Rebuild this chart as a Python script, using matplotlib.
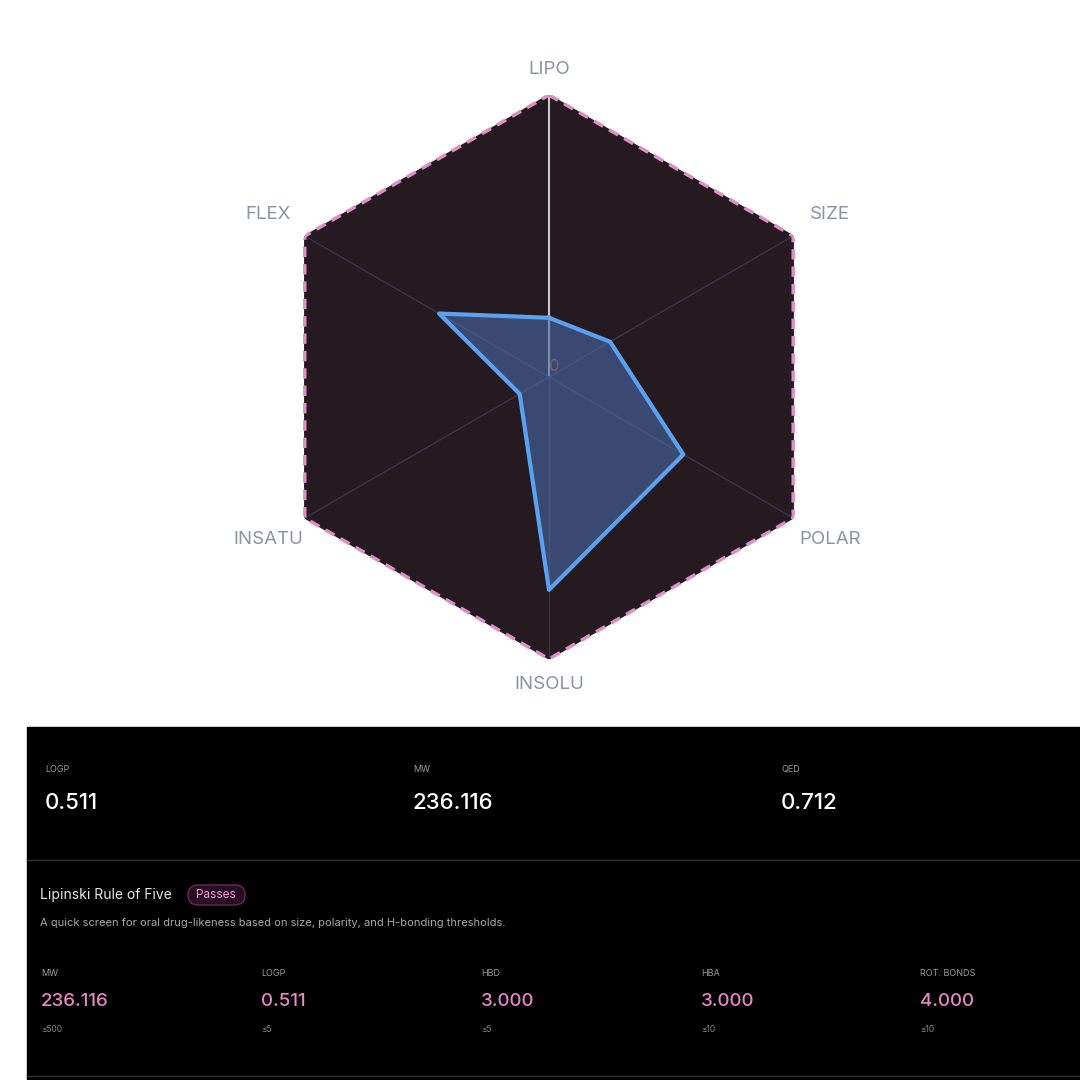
import numpy as np
import matplotlib
matplotlib.use("Agg")
import matplotlib.pyplot as plt
from matplotlib.patches import Rectangle, FancyBboxPatch

plt.rcParams['font.family'] = ['Inter', 'DejaVu Sans']

axes_labels = ["LIPO", "SIZE", "POLAR", "INSOLU", "INSATU", "FLEX"]
values = [0.21, 0.25, 0.55, 0.755, 0.12, 0.45]
top_metrics = ["LOGP", "MW", "QED"]
top_values = ["0.511", "236.116", "0.712"]
rule_names = ["MW", "LOGP", "HBD", "HBA", "ROT. BONDS"]
rule_values = ["236.116", "0.511", "3.000", "3.000", "4.000"]
rule_limits = ["≤500", "≤5", "≤5", "≤10", "≤10"]

W = 1080
fig = plt.figure(figsize=(10.8, 10.8), dpi=100)
fig.patch.set_facecolor("white")

cx, cy, R = 549 / W, 1 - 377 / W, 282 / W
ax = fig.add_axes([cx - R, cy - R, 2 * R, 2 * R], projection="polar")
ax.set_theta_zero_location("N")
ax.set_theta_direction(-1)
ax.set_ylim(0, 1)
ax.axis("off")

n = len(axes_labels)
theta = np.arange(n) * 2 * np.pi / n
tc = np.append(theta, theta[0])
ax.fill(tc, np.ones(n + 1), color="#241a20", zorder=1)
ax.plot(tc, np.ones(n + 1), color="#e08fc6", lw=2.5, ls=(0, (3, 2)), zorder=5)
for i, t in enumerate(theta):
    col = "#c8c8c8" if i == 0 else "#3a3444"
    lw = 1.5 if i == 0 else 1
    ax.plot([t, t], [0, 1], color=col, lw=lw, zorder=2)
vc = np.append(values, values[0])
ax.fill(tc, vc, color="#4a6aa8", alpha=0.6, zorder=3)
ax.plot(tc, vc, color="#5aa2f0", lw=3, zorder=4)
ax.text(0.06, 0.02, "0", color="#6a6470", fontsize=12, zorder=6)

for t, lab in zip(theta, axes_labels):
    r = 1.09 if lab in ("LIPO", "INSOLU") else 1.15
    ax.text(t, r, lab, color="#8a93a3", fontsize=13.5, ha="center", va="center",
            clip_on=False)

# bottom panel
pax = fig.add_axes([0, 0, 1, 1], facecolor="none")
pax.set_xlim(0, W); pax.set_ylim(W, 0); pax.axis("off")
pax.add_patch(Rectangle((27, 727), W - 27, W - 727, color="black"))
pax.plot([27, W], [860, 860], color="#333333", lw=1)
pax.plot([27, W], [1076, 1076], color="#333333", lw=1)

for x, m, v in zip([45, 413, 781], top_metrics, top_values):
    pax.text(x, 769, m, color="#9a9a9a", fontsize=6.5, va="center")
    pax.text(x, 803, v, color="white", fontsize=16, va="center", fontweight="medium")

pax.text(40, 895, "Lipinski Rule of Five", color="#e8e8e8", fontsize=10, va="center")
pax.add_patch(FancyBboxPatch((188, 885), 57, 20, boxstyle="round,pad=0,rounding_size=10",
                             fc="#2a0c22", ec="#6a2a55", lw=1))
pax.text(216, 895.5, "Passes", color="#e8a0d4", fontsize=8.5, ha="center", va="center")
pax.text(40, 923, "A quick screen for oral drug-likeness based on size, polarity, and H-bonding thresholds.",
         color="#a8a8a8", fontsize=8, va="center")

for x, nme, v, lim in zip([41, 261, 481, 701, 920], rule_names, rule_values, rule_limits):
    pax.text(x, 973, nme, color="#9a9a9a", fontsize=6.5, va="center")
    pax.text(x, 1001, v, color="#e889c8", fontsize=13.5, va="center", fontweight="medium")
    pax.text(x, 1029, lim, color="#8a8a8a", fontsize=6, va="center")

fig.savefig("out.png", dpi=100, facecolor="white")
